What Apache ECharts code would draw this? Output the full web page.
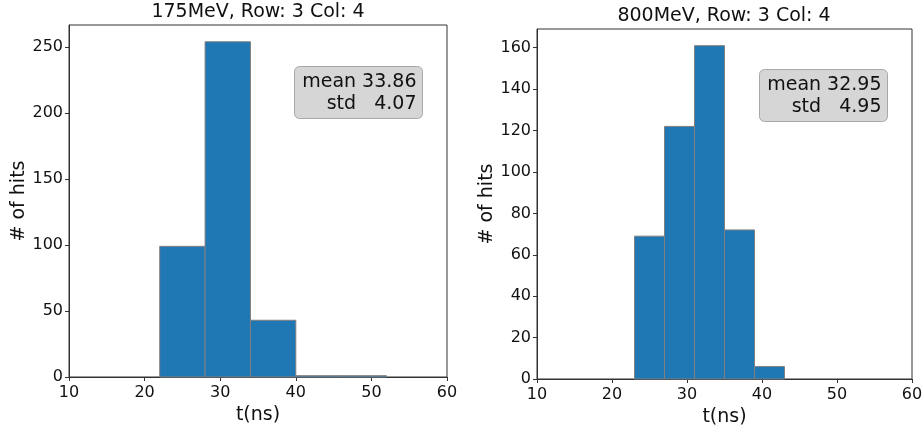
<!DOCTYPE html>
<html>
<head>
<meta charset="utf-8">
<script src="https://cdn.jsdelivr.net/npm/echarts@6/dist/echarts.min.js"></script>
<style>
  html, body { margin: 0; padding: 0; background: #fff; }
  #chart { width: 924px; height: 426px; }
</style>
</head>
<body>
<div id="chart"></div>
<script>
// 175MeV histogram
var edges175 = [22, 28, 34, 40, 46, 52];
var counts175 = [99, 254, 43, 1, 1];
var yTicks175 = [0, 50, 100, 150, 200, 250];

// 800MeV histogram
var edges800 = [23, 27, 31, 35, 39, 43];
var counts800 = [69, 122, 161, 72, 6];
var yTicks800 = [0, 20, 40, 60, 80, 100, 120, 140, 160];

var xTicks = [10, 20, 30, 40, 50, 60];
var titles = ['175MeV, Row: 3 Col: 4', '800MeV, Row: 3 Col: 4'];
var stats = [['33.86', '4.07'], ['32.95', '4.95']];

var FONT = 'DejaVu Sans';

function toBins(edges, counts) {
  var out = [];
  for (var i = 0; i < counts.length; i++) {
    out.push([edges[i], edges[i + 1], counts[i]]);
  }
  return out;
}

function renderBin(params, api) {
  var p0 = api.coord([api.value(0), 0]);
  var p1 = api.coord([api.value(1), api.value(2)]);
  return {
    type: 'rect',
    shape: { x: p0[0], y: p1[1], width: p1[0] - p0[0], height: p0[1] - p1[1] },
    style: { fill: '#1f77b4', stroke: '#808080', lineWidth: 1 }
  };
}

function xAxisFor(idx) {
  return {
    type: 'value', gridIndex: idx, min: 10, max: 60,
    name: 't(ns)', nameLocation: 'middle', nameGap: idx === 0 ? 27 : 26,
    nameTextStyle: { fontFamily: FONT, fontSize: 19, color: '#111' },
    axisLine: { show: true, onZero: false, lineStyle: { color: '#333' } },
    axisTick: { show: true, length: 4, customValues: xTicks, lineStyle: { color: '#333' } },
    axisLabel: { customValues: xTicks, fontFamily: FONT, fontSize: 16, color: '#111', margin: 8 },
    splitLine: { show: false }
  };
}

function yAxisFor(idx, max, ticks) {
  return {
    type: 'value', gridIndex: idx, min: 0, max: max,
    name: '# of hits', nameLocation: 'middle', nameGap: idx === 0 ? 40 : 39,
    nameTextStyle: { fontFamily: FONT, fontSize: 19, color: '#111' },
    axisLine: { show: true, lineStyle: { color: '#333' } },
    axisTick: { show: true, length: 4, customValues: ticks, lineStyle: { color: '#333' } },
    axisLabel: { customValues: ticks, fontFamily: FONT, fontSize: 16, color: '#111', margin: 6 },
    splitLine: { show: false }
  };
}

function statBox(right, top, s) {
  return {
    type: 'group', right: right, top: top,
    children: [
      { type: 'rect', shape: { x: 0, y: 0, width: 128, height: 52, r: 5 },
        style: { fill: '#d6d6d6', stroke: '#a8a8a8', lineWidth: 1 } },
      { type: 'text', x: 122, y: 5,
        style: { text: 'mean ' + s[0] + '\nstd   ' + s[1], align: 'right',
                 font: '19px "DejaVu Sans"', lineHeight: 22, fill: '#111' } }
    ]
  };
}

var chart = echarts.init(document.getElementById('chart'));
chart.setOption({
  animation: false,
  title: [
    { text: titles[0], left: 258, top: 3, textAlign: 'center', padding: 0,
      textStyle: { fontFamily: FONT, fontSize: 19, fontWeight: 'normal', color: '#111' } },
    { text: titles[1], left: 724, top: 7, textAlign: 'center', padding: 0,
      textStyle: { fontFamily: FONT, fontSize: 19, fontWeight: 'normal', color: '#111' } }
  ],
  grid: [
    { left: 69, top: 25, width: 378, height: 352, show: true, outerBoundsMode: 'none',
      borderColor: '#333', borderWidth: 1, backgroundColor: 'transparent' },
    { left: 537, top: 29, width: 375, height: 350, show: true, outerBoundsMode: 'none',
      borderColor: '#333', borderWidth: 1, backgroundColor: 'transparent' }
  ],
  xAxis: [xAxisFor(0), xAxisFor(1)],
  yAxis: [
    yAxisFor(0, Math.max.apply(null, counts175) * 1.05, yTicks175),
    yAxisFor(1, Math.max.apply(null, counts800) * 1.05, yTicks800)
  ],
  series: [
    { type: 'custom', xAxisIndex: 0, yAxisIndex: 0, renderItem: renderBin,
      encode: { x: [0, 1], y: 2 }, data: toBins(edges175, counts175) },
    { type: 'custom', xAxisIndex: 1, yAxisIndex: 1, renderItem: renderBin,
      encode: { x: [0, 1], y: 2 }, data: toBins(edges800, counts800) }
  ],
  graphic: [
    statBox(924 - 423, 66, stats[0]),
    statBox(924 - 888, 69, stats[1])
  ]
});
</script>
</body>
</html>
